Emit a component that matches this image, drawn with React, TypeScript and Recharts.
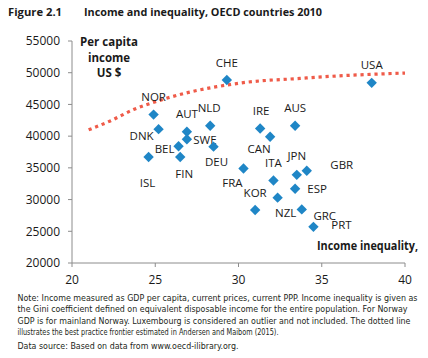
import React from "react";
import { ComposedChart, XAxis, YAxis, Scatter, Line } from "recharts";

const countries = ["NOR","DNK","AUT","SWE","BEL","FIN","ISL","DEU","NLD","CHE","USA","IRE","CAN","AUS","FRA","ITA","JPN","GBR","ESP","KOR","NZL","GRC","PRT"];
const gini = [24.9,25.2,26.9,26.9,26.4,26.5,24.6,28.5,28.3,29.3,38.0,31.3,31.9,33.4,30.3,32.1,33.5,34.1,33.4,31.0,32.35,33.8,34.5];
const income = [43400,41100,40700,39500,38400,36700,36700,38340,41650,48850,48400,41200,39900,41650,34900,33000,33900,34550,31700,28350,30300,28450,25700];

const frontierX = [21.0,22.3,23.7,25.1,27.0,28.7,30.5,33.7,36.0,38.0,40.0];
const frontierY = [41000,42400,44200,45500,46900,47800,48500,49100,49500,49750,49950];

const xTicks = [20,25,30,35,40];
const yTicks = [20000,25000,30000,35000,40000,45000,50000,55000];

// label placement offsets (layout only)
const labelOffsets: Record<string, [number, number]> = {
  NOR: [0,-18], DNK: [-17,6], AUT: [0,-18], SWE: [18,0], BEL: [-14,2], FIN: [4,16],
  ISL: [-1,25], DEU: [3,15], NLD: [-1,-18], CHE: [0,-18], USA: [0,-18], IRE: [1,-18],
  CAN: [-11,12], AUS: [0,-18], FRA: [-11,14], ITA: [0,-18], JPN: [0,-19], GBR: [35,-6],
  ESP: [22,0], KOR: [0,-18], NZL: [8,15], GRC: [23,6], PRT: [28,-2],
};

const pointData = countries.map((c, i) => ({ name: c, x: gini[i], y: income[i] }));
const frontierData = frontierX.map((x, i) => ({ x, y: frontierY[i] }));

const BLUE = "#1f86c6";
const RED = "#ef5b49";
const FONT = "'Open Sans', 'Liberation Sans', sans-serif";
const NARROW = "'Liberation Sans Narrow', 'DejaVu Sans Condensed', sans-serif";

const Diamond = (props: any) => {
  const { cx, cy, payload } = props;
  if (cx == null || cy == null) return null;
  const r = 5.2;
  const off = labelOffsets[payload.name] || [0, -18];
  return (
    <g>
      <path d={`M${cx},${cy - r}L${cx + r},${cy}L${cx},${cy + r}L${cx - r},${cy}Z`} fill={BLUE} />
      <text x={cx + off[0]} y={cy + off[1]} textAnchor="middle" dominantBaseline="central"
        fontFamily={FONT} fontSize={11.5} fill="#1a1a1a">{payload.name}</text>
    </g>
  );
};

const noteLines = [
  "Note: Income measured as GDP per capita, current prices, current PPP. Income inequality is given as",
  "the Gini coefficient defined on equivalent disposable income for the entire population. For Norway",
  "GDP is for mainland Norway. Luxembourg is considered an outlier and not included. The dotted line",
  "illustrates the best practice frontier estimated in Andersen and Maibom (2015).",
];
const noteWidths = [400, 390, 393, 261];
const noteBaselines = [300.8, 312.3, 323.8, 334.5];

export default function App() {
  return (
    <div style={{ position: "absolute", left: 0, top: 0, width: 428, height: 358, background: "#fff" }}>
      <div style={{ position: "absolute", left: 0, top: 0 }}>
        <ComposedChart width={428} height={358} margin={{ top: 41, right: 23, left: 12, bottom: 65 }}>
          <XAxis type="number" dataKey="x" domain={[20, 40]} ticks={xTicks} allowDataOverflow
            height={30} tickSize={4} tickMargin={8} stroke="#8c8c8c"
            tick={{ fill: "#1a1a1a", fontSize: 12, fontFamily: FONT }} />
          <YAxis type="number" dataKey="y" domain={[20000, 55000]} ticks={yTicks} allowDataOverflow
            width={60} tickSize={4} tickMargin={8} stroke="#8c8c8c"
            tick={{ fill: "#1a1a1a", fontSize: 12, fontFamily: FONT }} />
          <Line data={frontierData} dataKey="y" type="monotone" stroke={RED} strokeWidth={3.2}
            strokeDasharray="3.2 3.8" dot={false} activeDot={false} isAnimationActive={false} />
          <Scatter data={pointData} dataKey="y" shape={Diamond} isAnimationActive={false} />
        </ComposedChart>
      </div>
      <svg width={428} height={358} style={{ position: "absolute", left: 0, top: 0, pointerEvents: "none" }}>
        <text x={8} y={16} fontFamily={FONT} fontWeight="bold" fontSize={11} fill="#1a1a1a"
          textLength={54} lengthAdjust="spacingAndGlyphs">Figure 2.1</text>
        <text x={84} y={16} fontFamily={FONT} fontWeight="bold" fontSize={11} fill="#1a1a1a"
          textLength={238} lengthAdjust="spacingAndGlyphs">Income and inequality, OECD countries 2010</text>
        <g fontFamily={FONT} fontWeight="bold" fontSize={11.5} fill="#1a1a1a" textAnchor="middle">
          <text x={109} y={41.7} dominantBaseline="central">Per capita</text>
          <text x={109} y={57} dominantBaseline="central">income</text>
          <text x={109} y={72.7} dominantBaseline="central">US $</text>
        </g>
        <text x={317} y={245} dominantBaseline="central" fontFamily={FONT} fontWeight="bold" fontSize={11.5}
          fill="#1a1a1a" textLength={101} lengthAdjust="spacingAndGlyphs">Income inequality,</text>
        <g fontFamily={NARROW} fontSize={8.8} fill="#231f20">
          {noteLines.map((t, i) => (
            <text key={i} x={17.5} y={noteBaselines[i]} textLength={noteWidths[i]} lengthAdjust="spacingAndGlyphs">{t}</text>
          ))}
          <text x={17.5} y={348.5} textLength={221} lengthAdjust="spacingAndGlyphs">Data source: Based on data from www.oecd-ilibrary.org.</text>
        </g>
      </svg>
    </div>
  );
}
